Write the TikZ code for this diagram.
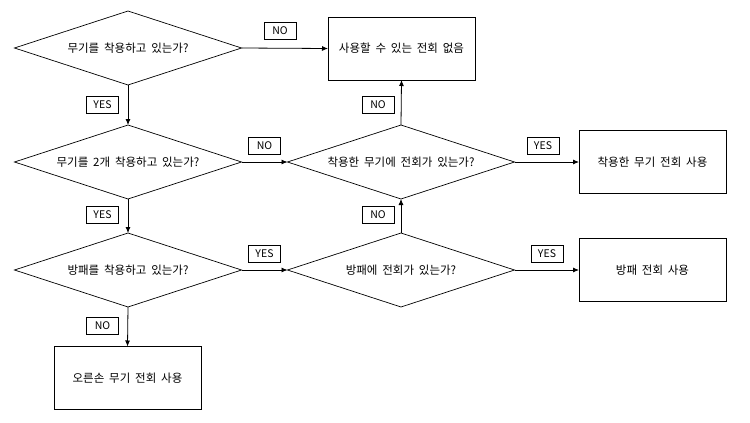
\documentclass[tikz,border=0pt]{standalone}
\usepackage{fontspec}
\setmainfont{Noto Sans CJK KR}
\usetikzlibrary{shapes.geometric,arrows.meta}
\newcommand{\kfont}{\fontsize{11.5}{13}\selectfont\spaceskip=0.42em plus 0.1em\relax}
\begin{document}
\begin{tikzpicture}[x=1pt,y=-1pt,
  dia/.style={diamond,aspect=3.07,draw,line width=0.7pt,inner sep=0pt,outer sep=0pt,minimum width=227pt,minimum height=74pt,font=\kfont},
  endbox/.style={rectangle,draw,line width=0.8pt,inner sep=0pt,outer sep=0pt,minimum width=147pt,minimum height=63pt,font=\kfont},
  lbl/.style={rectangle,draw,line width=0.7pt,inner sep=0pt,minimum width=32pt,minimum height=17pt,font=\fontsize{10.5}{12}\selectfont},
  arr/.style={draw,line width=0.8pt,-{Latex[length=6pt,width=5pt]}}]
\useasboundingbox (0,0) rectangle (750,423);
\node[dia] (d1) at (128,48) {무기를 착용하고 있는가?};
\node[dia] (d2) at (128,162) {무기를 2개 착용하고 있는가?};
\node[dia] (d3) at (128,270) {방패를 착용하고 있는가?};
\node[dia] (d4) at (401,162) {착용한 무기에 전회가 있는가?};
\node[dia] (d5) at (401,270) {방패에 전회가 있는가?};
\node[endbox] (b1) at (401.5,48.5) {사용할 수 있는 전회 없음};
\node[endbox] (b2) at (652.5,162) {착용한 무기 전회 사용};
\node[endbox] (b3) at (652.5,270) {방패 전회 사용};
\node[endbox] (b4) at (127.5,378) {오른손 무기 전회 사용};
\draw[arr] (d1.east) -- (b1.west);
\draw[arr] (d1.south) -- (d2.north);
\draw[arr] (d2.east) -- (d4.west);
\draw[arr] (d2.south) -- (d3.north);
\draw[arr] (d3.east) -- (d5.west);
\draw[arr] (d3.south) -- (b4.north);
\draw[arr] (d5.north) -- (d4.south);
\draw[arr] (d4.north) -- (b1.south);
\draw[arr] (d4.east) -- (b2.west);
\draw[arr] (d5.east) -- (b3.west);
\node[lbl] (l1) at (280,31) {NO};
\node[lbl] (l2) at (102.5,104.5) {YES};
\node[lbl] (l3) at (378,105) {NO};
\node[lbl] (l4) at (264.5,145.5) {NO};
\node[lbl] (l5) at (102.5,214.5) {YES};
\node[lbl] (l6) at (378,214.5) {NO};
\node[lbl] (l7) at (264.5,254) {YES};
\node[lbl] (l8) at (543,145.5) {YES};
\node[lbl] (l9) at (547,254) {YES};
\node[lbl] (l10) at (102.5,325.5) {NO};
\end{tikzpicture}
\end{document}
